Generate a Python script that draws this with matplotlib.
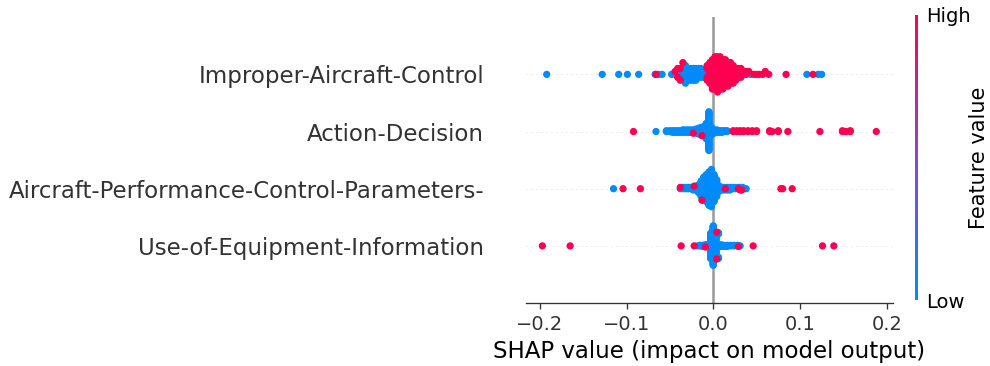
import numpy as np
import matplotlib
matplotlib.use("Agg")
import matplotlib.pyplot as plt
from matplotlib.colors import LinearSegmentedColormap, Normalize
from matplotlib.cm import ScalarMappable

# features, bottom row first
features = [
    "Use-of-Equipment-Information",
    "Aircraft-Performance-Control-Parameters-",
    "Action-Decision",
    "Improper-Aircraft-Control",
]

# SHAP values with how many samples sit at each value; low = feature 0, high = feature 1
imp_low_vals = [-0.192, -0.128, -0.109, -0.099, -0.086, -0.067, -0.063, -0.059, -0.048, -0.044,
                -0.041, -0.038, -0.035, -0.032, -0.029, -0.026, -0.023, -0.020, -0.017, -0.014,
                -0.011, -0.008, -0.003, 0.005, 0.033, 0.043, 0.108, 0.121, 0.125]
imp_low_counts = [1, 1, 1, 1, 1, 1, 1, 1, 1, 1, 2, 3, 3, 4, 5, 5, 5, 5, 4, 4, 3, 2, 1, 1, 1, 1, 1, 1, 1]
imp_high_vals = [-0.066, -0.044, -0.041, -0.038, -0.035, -0.007, -0.004, -0.001, 0.002, 0.005,
                 0.008, 0.011, 0.014, 0.017, 0.020, 0.023, 0.026, 0.029, 0.032, 0.035,
                 0.038, 0.041, 0.047, 0.050, 0.053, 0.057, 0.060, 0.064, 0.084, 0.115]
imp_high_counts = [1, 1, 2, 2, 1, 4, 8, 10, 12, 12, 12, 11, 10, 9, 8, 7, 5, 4, 3, 2, 2, 1, 1, 1, 1, 1, 1, 1, 1, 1]

act_low_vals = [-0.066, -0.054, -0.050, -0.047, -0.044, -0.041, -0.038, -0.035, -0.032, -0.029,
                -0.026, -0.023, -0.020, -0.017, -0.014, -0.011, -0.008, -0.005, -0.002, 0.001,
                0.004, 0.007, 0.010, 0.013, 0.016]
act_low_counts = [1, 2, 2, 3, 3, 3, 3, 4, 4, 4, 4, 4, 6, 8, 10, 12, 20, 48, 10, 5, 4, 3, 3, 2, 2]
act_high_vals = [-0.092, -0.023, -0.013, 0.023, 0.027, 0.031, 0.035, 0.040, 0.045, 0.050,
                 0.065, 0.068, 0.075, 0.086, 0.123, 0.149, 0.153, 0.158, 0.188]
act_high_counts = [1, 1, 1, 2, 2, 2, 2, 2, 2, 2, 2, 1, 2, 1, 1, 2, 1, 2, 1]

perf_low_vals = [-0.115, -0.038, -0.035, -0.032, -0.029, -0.026, -0.023, -0.020, -0.017, -0.014,
                 -0.011, -0.008, -0.005, -0.002, 0.001, 0.004, 0.007, 0.010, 0.013, 0.016,
                 0.019, 0.022, 0.025, 0.028, 0.031, 0.034, 0.038]
perf_low_counts = [1, 1, 2, 2, 2, 2, 3, 4, 7, 13, 18, 22, 27, 30, 22, 14, 5, 3, 3, 3, 3, 2, 2, 2, 2, 2, 1]
perf_high_vals = [-0.104, -0.084, -0.038, -0.022, -0.013, 0.014, 0.029, 0.031, 0.033, 0.078, 0.080, 0.091]
perf_high_counts = [1, 1, 1, 1, 1, 1, 1, 1, 1, 1, 1, 1]

use_low_vals = [-0.018, -0.015, -0.012, -0.009, -0.006, -0.003, 0.000, 0.003, 0.006, 0.009,
                0.012, 0.016, 0.020, 0.024, 0.028, 0.031]
use_low_counts = [1, 2, 3, 4, 6, 45, 70, 40, 6, 4, 3, 3, 2, 2, 2, 1]
use_high_vals = [-0.197, -0.165, -0.037, -0.022, -0.009, 0.004, 0.029, 0.046, 0.126, 0.139]
use_high_counts = [1, 1, 1, 1, 1, 2, 1, 1, 1, 1]

rows = [
    (use_low_vals, use_low_counts, use_high_vals, use_high_counts),
    (perf_low_vals, perf_low_counts, perf_high_vals, perf_high_counts),
    (act_low_vals, act_low_counts, act_high_vals, act_high_counts),
    (imp_low_vals, imp_low_counts, imp_high_vals, imp_high_counts),
]

blue = "#008bfb"
red = "#ff0051"
red_blue = LinearSegmentedColormap.from_list("red_blue", [blue, "#8e44d8", red])


def swarm(vals, row_height=0.4, nbins=100):
    # same binning/stacking scheme as the shap beeswarm
    quant = np.round(nbins * (vals - vals.min()) / (vals.max() - vals.min() + 1e-8))
    order = np.argsort(quant, kind="stable")
    ys = np.zeros(len(vals))
    layer = 0
    last_bin = -1
    for i in order:
        if quant[i] != last_bin:
            layer = 0
        ys[i] = np.ceil(layer / 2) * ((layer % 2) * 2 - 1)
        layer += 1
        last_bin = quant[i]
    ys *= 0.9 * (row_height / np.max(ys + 1))
    return ys


axis_color = "#333333"
fig = plt.figure(figsize=(8.25, 3.05), dpi=120)
ax = fig.add_axes([0.531, 0.172, 0.371, 0.781])

for pos, (lv, lc, hv, hc) in enumerate(rows):
    ax.axhline(y=pos, color="#cccccc", lw=0.5, dashes=(1, 5), zorder=-1)
    shaps = np.concatenate([np.repeat(lv, lc), np.repeat(hv, hc)])
    fvals = np.concatenate([np.zeros(sum(lc)), np.ones(sum(hc))])
    ys = swarm(shaps)
    ax.scatter(shaps, pos + ys, c=fvals, cmap=red_blue, vmin=0, vmax=1,
               s=19, linewidth=0, alpha=1, zorder=3)

ax.axvline(x=0, color="#999999", zorder=-1)

ax.set_ylim(-1, len(features))
ax.set_yticks(range(len(features)))
ax.set_yticklabels(features, fontsize=13.7)
ax.tick_params("y", length=0, pad=25)
ax.tick_params(color=axis_color, labelcolor=axis_color)
ax.tick_params("x", labelsize=11.7)
ax.xaxis.set_ticks_position("bottom")
for side in ["top", "right", "left"]:
    ax.spines[side].set_visible(False)
ax.spines["bottom"].set_color(axis_color)
ax.set_xlabel("SHAP value (impact on model output)", fontsize=13.7)

cax = fig.add_axes([0.924, 0.18, 0.003, 0.78])
cb = fig.colorbar(ScalarMappable(norm=Normalize(0, 1), cmap=red_blue), cax=cax, ticks=[0, 1])
cb.set_ticklabels(["Low", "High"])
cb.set_label("Feature value", size=12.5, labelpad=-1)
cb.ax.tick_params(labelsize=11.7, length=0, pad=5)
cb.outline.set_visible(False)

fig.savefig("out.png", dpi=120)
